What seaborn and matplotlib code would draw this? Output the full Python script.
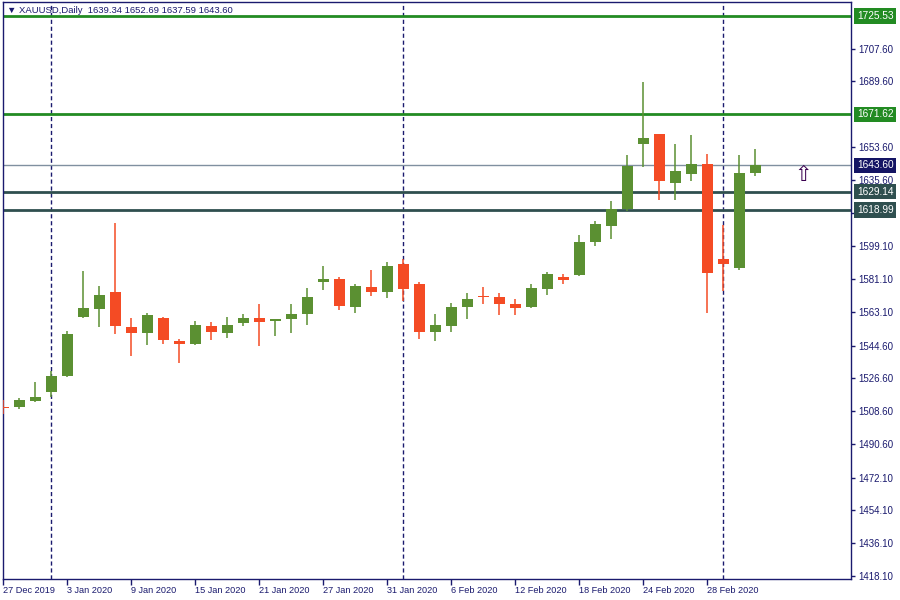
import numpy as np
import pandas as pd
import matplotlib
matplotlib.use('Agg')
import matplotlib.pyplot as plt
import matplotlib.transforms as mtransforms
import seaborn as sns

# daily candles 27 Dec 2019 .. 4 Mar 2020
dates = ['27 Dec 2019', '30 Dec 2019', '31 Dec 2019', '2 Jan 2020', '3 Jan 2020',
         '6 Jan 2020', '7 Jan 2020', '8 Jan 2020', '9 Jan 2020', '10 Jan 2020',
         '13 Jan 2020', '14 Jan 2020', '15 Jan 2020', '16 Jan 2020', '17 Jan 2020',
         '20 Jan 2020', '21 Jan 2020', '22 Jan 2020', '23 Jan 2020', '24 Jan 2020',
         '27 Jan 2020', '28 Jan 2020', '29 Jan 2020', '30 Jan 2020', '31 Jan 2020',
         '3 Feb 2020', '4 Feb 2020', '5 Feb 2020', '6 Feb 2020', '7 Feb 2020',
         '10 Feb 2020', '11 Feb 2020', '12 Feb 2020', '13 Feb 2020', '14 Feb 2020',
         '17 Feb 2020', '18 Feb 2020', '19 Feb 2020', '20 Feb 2020', '21 Feb 2020',
         '24 Feb 2020', '25 Feb 2020', '26 Feb 2020', '27 Feb 2020', '28 Feb 2020',
         '2 Mar 2020', '3 Mar 2020', '4 Mar 2020']
opens = [1510.9, 1511.1, 1513.9, 1518.9, 1528.0, 1560.1, 1564.5, 1574.2, 1555.0, 1551.3,
         1559.9, 1547.3, 1545.3, 1555.5, 1551.3, 1556.8, 1559.9, 1557.9, 1559.0, 1561.8,
         1579.4, 1580.9, 1565.6, 1576.5, 1573.9, 1589.6, 1578.1, 1551.9, 1555.2, 1565.6,
         1571.5, 1571.5, 1567.6, 1565.6, 1575.5, 1582.0, 1583.2, 1601.4, 1610.2, 1619.5,
         1655.3, 1660.6, 1633.8, 1638.8, 1644.1, 1591.9, 1587.1, 1639.34]
highs = [1514.8, 1515.9, 1524.8, 1530.8, 1552.8, 1585.3, 1577.0, 1611.6, 1559.9, 1562.7,
         1560.5, 1548.4, 1557.8, 1557.7, 1560.5, 1562.1, 1567.6, 1559.4, 1567.6, 1575.9,
         1588.5, 1582.0, 1578.1, 1586.3, 1590.2, 1591.9, 1579.2, 1562.1, 1568.2, 1573.7,
         1576.5, 1573.7, 1570.4, 1578.1, 1584.7, 1583.6, 1605.0, 1612.8, 1623.8, 1649.1,
         1689.2, 1660.8, 1655.1, 1660.1, 1649.6, 1610.7, 1649.1, 1652.69]
lows = [1507.2, 1510.0, 1513.4, 1516.1, 1527.1, 1559.8, 1554.6, 1550.8, 1538.7, 1544.7,
        1545.3, 1534.8, 1545.0, 1547.5, 1548.6, 1555.2, 1544.2, 1549.7, 1551.3, 1555.7,
        1575.0, 1564.0, 1562.3, 1571.7, 1570.6, 1568.9, 1548.0, 1546.9, 1551.9, 1559.0,
        1567.3, 1561.2, 1561.2, 1565.1, 1572.2, 1578.3, 1582.8, 1599.2, 1603.0, 1618.4,
        1642.6, 1624.5, 1624.5, 1634.9, 1562.3, 1574.4, 1586.0, 1637.59]
closes = [1510.3, 1514.8, 1516.5, 1528.0, 1551.1, 1565.4, 1572.6, 1555.2, 1551.3, 1561.6,
          1547.5, 1545.3, 1555.6, 1551.8, 1556.1, 1559.9, 1557.4, 1559.0, 1562.1, 1571.0,
          1580.9, 1566.2, 1577.0, 1573.9, 1588.5, 1575.4, 1551.9, 1556.1, 1566.0, 1569.9,
          1571.1, 1567.3, 1565.1, 1575.9, 1583.6, 1580.5, 1601.2, 1611.1, 1619.4, 1643.4,
          1658.4, 1634.9, 1640.3, 1644.1, 1584.3, 1589.3, 1639.2, 1643.60]

green_levels = [1725.53, 1671.62]
slate_levels = [1629.14, 1618.99]
last_price = 1643.60
separators = ['2 Jan 2020', '3 Feb 2020', '2 Mar 2020']
price_ticks = [1707.60, 1689.60, 1653.60, 1635.60, 1617.10, 1599.10, 1581.10, 1563.10,
               1544.60, 1526.60, 1508.60, 1490.60, 1472.10, 1454.10, 1436.10, 1418.10]
date_ticks = ['27 Dec 2019', '3 Jan 2020', '9 Jan 2020', '15 Jan 2020', '21 Jan 2020',
              '27 Jan 2020', '31 Jan 2020', '6 Feb 2020', '12 Feb 2020', '18 Feb 2020',
              '24 Feb 2020', '28 Feb 2020']

sns.set_style('white')
plt.rcParams['font.family'] = ['Liberation Sans', 'DejaVu Sans']

NAVY = '#1a1a6e'
UP = '#5b9032'
DOWN = '#f44b24'

df = pd.DataFrame({'date': dates, 'open': opens, 'high': highs, 'low': lows, 'close': closes})
df['i'] = np.arange(len(df))
df['up'] = df['close'] >= df['open']
df['bottom'] = df[['open', 'close']].min(axis=1)
df['body'] = (df['close'] - df['open']).abs().clip(lower=0.6)
df['color'] = np.where(df['up'], UP, DOWN)
pos = dict(zip(df['date'], df['i']))

fig = plt.figure(figsize=(9, 6), dpi=100)
ax = fig.add_axes([3 / 900, 21 / 600, 848 / 900, 577 / 600])

# monthly separators
for d in separators:
    ax.axvline(pos[d], color=NAVY, lw=1, ls=(0, (3, 2)), zorder=1)

# levels
for v in green_levels:
    ax.axhline(v, color='#228b22', lw=2, zorder=2)
for v in slate_levels:
    ax.axhline(v, color='#2f4f4f', lw=2, zorder=2)
ax.axhline(last_price, color='#8090a0', lw=1, zorder=2)

# candles
ax.vlines(df['i'], df['low'], df['high'], colors=df['color'], lw=1.1, zorder=3)
ax.bar(df['i'], df['body'], bottom=df['bottom'], width=0.7, color=df['color'],
       linewidth=0, zorder=4)

ax.set_xlim(-0.03, 52.97)
ax.set_ylim(1416.4, 1733.2)

ax.yaxis.tick_right()
ax.set_yticks(price_ticks)
ax.set_yticklabels([f'{v:.2f}' for v in price_ticks])
ax.set_xticks([pos[d] for d in date_ticks])
ax.set_xticklabels(date_ticks)
ax.tick_params(axis='y', direction='out', length=3, width=1, color=NAVY,
               labelcolor=NAVY, labelsize=7, pad=2, right=True, left=False)
ax.tick_params(axis='x', direction='out', length=4, width=1, color=NAVY,
               labelcolor=NAVY, labelsize=6.6, pad=1, bottom=True)
plt.setp(ax.get_xticklabels(), ha='left')
for s in ax.spines.values():
    s.set_color(NAVY)
    s.set_linewidth(1)

# price labels on right edge (they cover the nearby axis labels, as in the terminal)
trans = mtransforms.blended_transform_factory(ax.transAxes, ax.transData)
boxes = [(v, '#228b22') for v in green_levels] + [(v, '#2f4f4f') for v in slate_levels] \
    + [(last_price, '#141464')]
for v, c in boxes:
    ax.text(1.007, v, f'{v:.2f}', transform=trans, ha='left', va='center', fontsize=7.3,
            color='white', clip_on=False, zorder=6,
            bbox=dict(boxstyle='square,pad=0.25', fc=c, ec='none'))

ax.text(0.005, 0.985, '\u25bc XAUUSD,Daily  1639.34 1652.69 1637.59 1643.60',
        transform=ax.transAxes, ha='left', va='center', fontsize=6.8, color=NAVY,
        family=['Liberation Sans', 'DejaVu Sans'])
ax.text(50, 1638.3, '\u21e7', ha='center', va='center', fontsize=15, color='#3a0050',
        family='DejaVu Sans')

fig.savefig('out.png', dpi=100)
